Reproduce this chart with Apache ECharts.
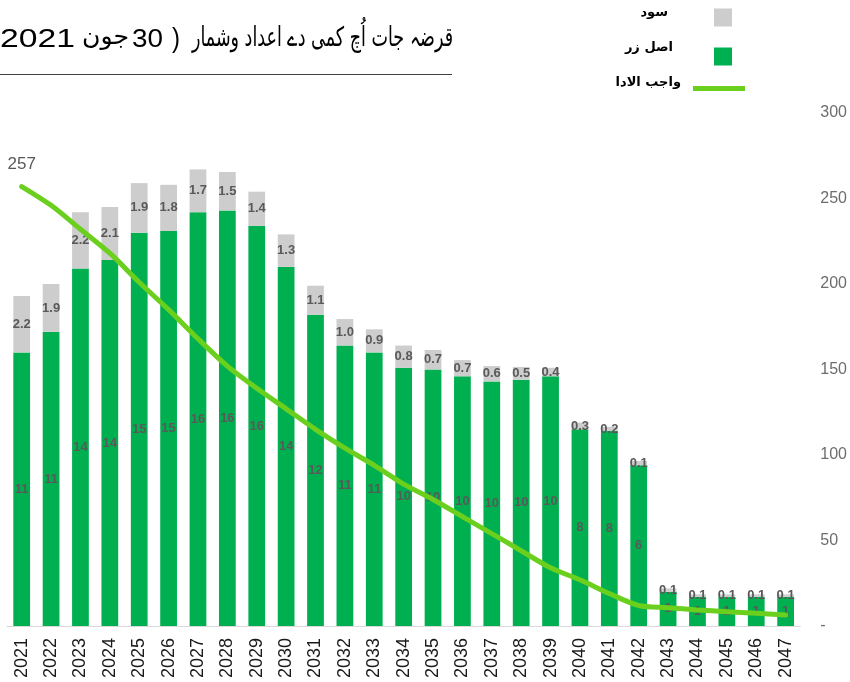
<!DOCTYPE html>
<html>
<head>
<meta charset="utf-8">
<script src="https://cdn.jsdelivr.net/npm/echarts@6/dist/echarts.min.js"></script>
<style>
  html, body { margin: 0; padding: 0; background: #ffffff; }
  #chart { width: 850px; height: 682px; }
</style>
</head>
<body>
<div id="chart"></div>
<script>
// Repayment years
const years = ['2021','2022','2023','2024','2025','2026','2027','2028','2029','2030',
  '2031','2032','2033','2034','2035','2036','2037','2038','2039','2040',
  '2041','2042','2043','2044','2045','2046','2047'];

// Principal (اصل زر) per year, on the right axis scale
const principal = [160, 172, 209, 214, 230, 231, 242, 243, 234, 210,
  182, 164, 160, 151, 150, 146, 143, 144, 146, 115,
  114, 94, 20, 17, 17, 17, 17];

// Interest (سود) per year, stacked on top of principal
const interest = [33, 28, 33, 31, 29, 27, 25, 22.5, 20, 19,
  17, 15.5, 13.5, 13, 11.4, 9.5, 9, 7.5, 5, 4,
  2.5, 2.5, 2, 1.5, 1.5, 1.5, 1.5];

// Figures printed on the bars
const principalLabels = ['11','11','14','14','15','15','16','16','16','14',
  '12','11','11','10','10','10','10','10','10','8',
  '8','6','1','1','1','1','1'];
const interestLabels = ['2.2','1.9','2.2','2.1','1.9','1.8','1.7','1.5','1.4','1.3',
  '1.1','1.0','0.9','0.8','0.7','0.7','0.6','0.5','0.4','0.3',
  '0.2','0.1','0.1','0.1','0.1','0.1','0.1'];

// Outstanding amount (واجب الادا) at each year
const outstanding = [257, 246, 232, 218, 201, 185, 168, 152, 139, 127,
  115, 104, 94, 83, 74, 64, 54, 44, 34, 27,
  19, 12, 10.7, 9.4, 8.4, 7.4, 6.4];

// Right axis
const yMin = 0, yMax = 300, yStep = 50;

// Title pieces, laid out left to right
const titleParts = ['2021', 'جون', '30', ')', 'قرضہ جات اُچ کمی دے اعداد وشمار'];
const nameInterest = 'سود';
const namePrincipal = 'اصل زر';
const nameOutstanding = 'واجب الادا';

const GREEN = '#00B050';
const GREY = '#CDCDCD';
const LIME = '#6ACF1D';
const LABEL = '#595959';

// Measure text so each title piece can be stretched into its slot
const measureCtx = document.createElement('canvas').getContext('2d');
function measure(text, font) {
  measureCtx.font = font;
  return measureCtx.measureText(text).width;
}
const titleSlots = [
  { font: '26px "Liberation Sans"', x0: 0, x1: 75, y: 40 },
  { font: '24px "DejaVu Sans"', x0: 82, x1: 129, y: 38 },
  { font: '26px "Liberation Sans"', x0: 132, x1: 163, y: 40 },
  { font: '28px "Liberation Sans"', x0: 172, x1: 180, y: 39 },
  { font: '27px "DejaVu Sans"', x0: 192, x1: 453, y: 39 }
];
const titleGraphics = titleParts.map((t, i) => {
  const s = titleSlots[i];
  const w = measure(t, s.font);
  return {
    type: 'text',
    x: s.x0,
    y: s.y,
    scaleX: (s.x1 - s.x0) / w,
    style: {
      text: t,
      font: s.font,
      fill: '#000000',
      align: 'left',
      verticalAlign: 'middle'
    }
  };
});

const chart = echarts.init(document.getElementById('chart'), null, { renderer: 'canvas' });

// Legend labels sit a little above their swatches: an empty second line of
// height `lift` pushes the label up by half of it.
function legendTextStyle(rightGap, lift) {
  return {
    padding: [0, rightGap, 0, 0],
    rich: {
      t: {
        fontFamily: 'DejaVu Sans',
        fontSize: 13,
        fontWeight: 'bold',
        color: '#000000',
        lineHeight: 16
      },
      s: { fontSize: 1, lineHeight: lift }
    }
  };
}
const legendFormatter = name => '{t|' + name + '}\n{s| }';

chart.setOption({
  animation: false,
  backgroundColor: '#ffffff',
  textStyle: { fontFamily: 'Liberation Sans, Arial, sans-serif' },
  graphic: titleGraphics.concat([
    {
      type: 'line',
      shape: { x1: 0, y1: 74.5, x2: 452, y2: 74.5 },
      style: { stroke: '#404040', lineWidth: 1 }
    }
  ]),
  legend: [
    {
      data: [nameInterest],
      orient: 'vertical',
      align: 'right',
      padding: 0,
      right: 118,
      top: 6,
      itemWidth: 18,
      itemHeight: 18,
      icon: 'rect',
      formatter: legendFormatter,
      textStyle: legendTextStyle(41, 10)
    },
    {
      data: [namePrincipal],
      orient: 'vertical',
      align: 'right',
      padding: 0,
      right: 118,
      top: 41,
      itemWidth: 18,
      itemHeight: 18,
      icon: 'rect',
      formatter: legendFormatter,
      textStyle: legendTextStyle(36, 18)
    },
    {
      data: [nameOutstanding],
      orient: 'vertical',
      align: 'right',
      padding: 0,
      right: 105,
      top: 76,
      itemWidth: 52,
      itemHeight: 5,
      icon: 'rect',
      formatter: legendFormatter,
      textStyle: legendTextStyle(7, 12)
    }
  ],
  grid: {
    left: 7,
    right: 48,
    top: 113,
    bottom: 56,
    containLabel: false
  },
  xAxis: {
    type: 'category',
    data: years,
    axisLine: { lineStyle: { color: '#D9D9D9', width: 1 } },
    axisTick: { show: false },
    axisLabel: {
      rotate: 90,
      interval: 0,
      margin: 12,
      fontSize: 18,
      color: '#1a1a1a',
      fontFamily: 'Liberation Sans'
    }
  },
  yAxis: {
    type: 'value',
    position: 'right',
    min: yMin,
    max: yMax,
    interval: yStep,
    splitLine: { show: false },
    axisLine: { show: false },
    axisTick: { show: false },
    axisLabel: {
      margin: 20,
      fontSize: 16,
      color: '#6d6d6d',
      fontFamily: 'Liberation Sans',
      formatter: v => (v === 0 ? '-' : String(v))
    }
  },
  series: [
    {
      name: namePrincipal,
      type: 'bar',
      stack: 'debt',
      barWidth: '57%',
      data: principal,
      itemStyle: { color: GREEN },
      label: {
        show: true,
        position: 'inside',
        color: LABEL,
        fontSize: 13,
        fontWeight: 'bold',
        fontFamily: 'Liberation Sans',
        formatter: p => principalLabels[p.dataIndex]
      }
    },
    {
      name: nameInterest,
      type: 'bar',
      stack: 'debt',
      barWidth: '57%',
      data: interest,
      itemStyle: { color: GREY },
      label: {
        show: true,
        position: 'inside',
        color: LABEL,
        fontSize: 13,
        fontWeight: 'bold',
        fontFamily: 'Liberation Sans',
        formatter: p => interestLabels[p.dataIndex]
      }
    },
    {
      name: nameOutstanding,
      type: 'line',
      data: outstanding,
      smooth: 0.3,
      symbol: 'circle',
      symbolSize: 0.01,
      showSymbol: true,
      lineStyle: { color: LIME, width: 5, cap: 'round' },
      itemStyle: { color: LIME },
      label: {
        show: true,
        position: 'top',
        distance: 14,
        color: LABEL,
        fontSize: 17,
        fontFamily: 'Liberation Sans',
        formatter: p => (p.dataIndex === 0 ? String(p.value) : '')
      },
      z: 3
    }
  ]
});
</script>
</body>
</html>
